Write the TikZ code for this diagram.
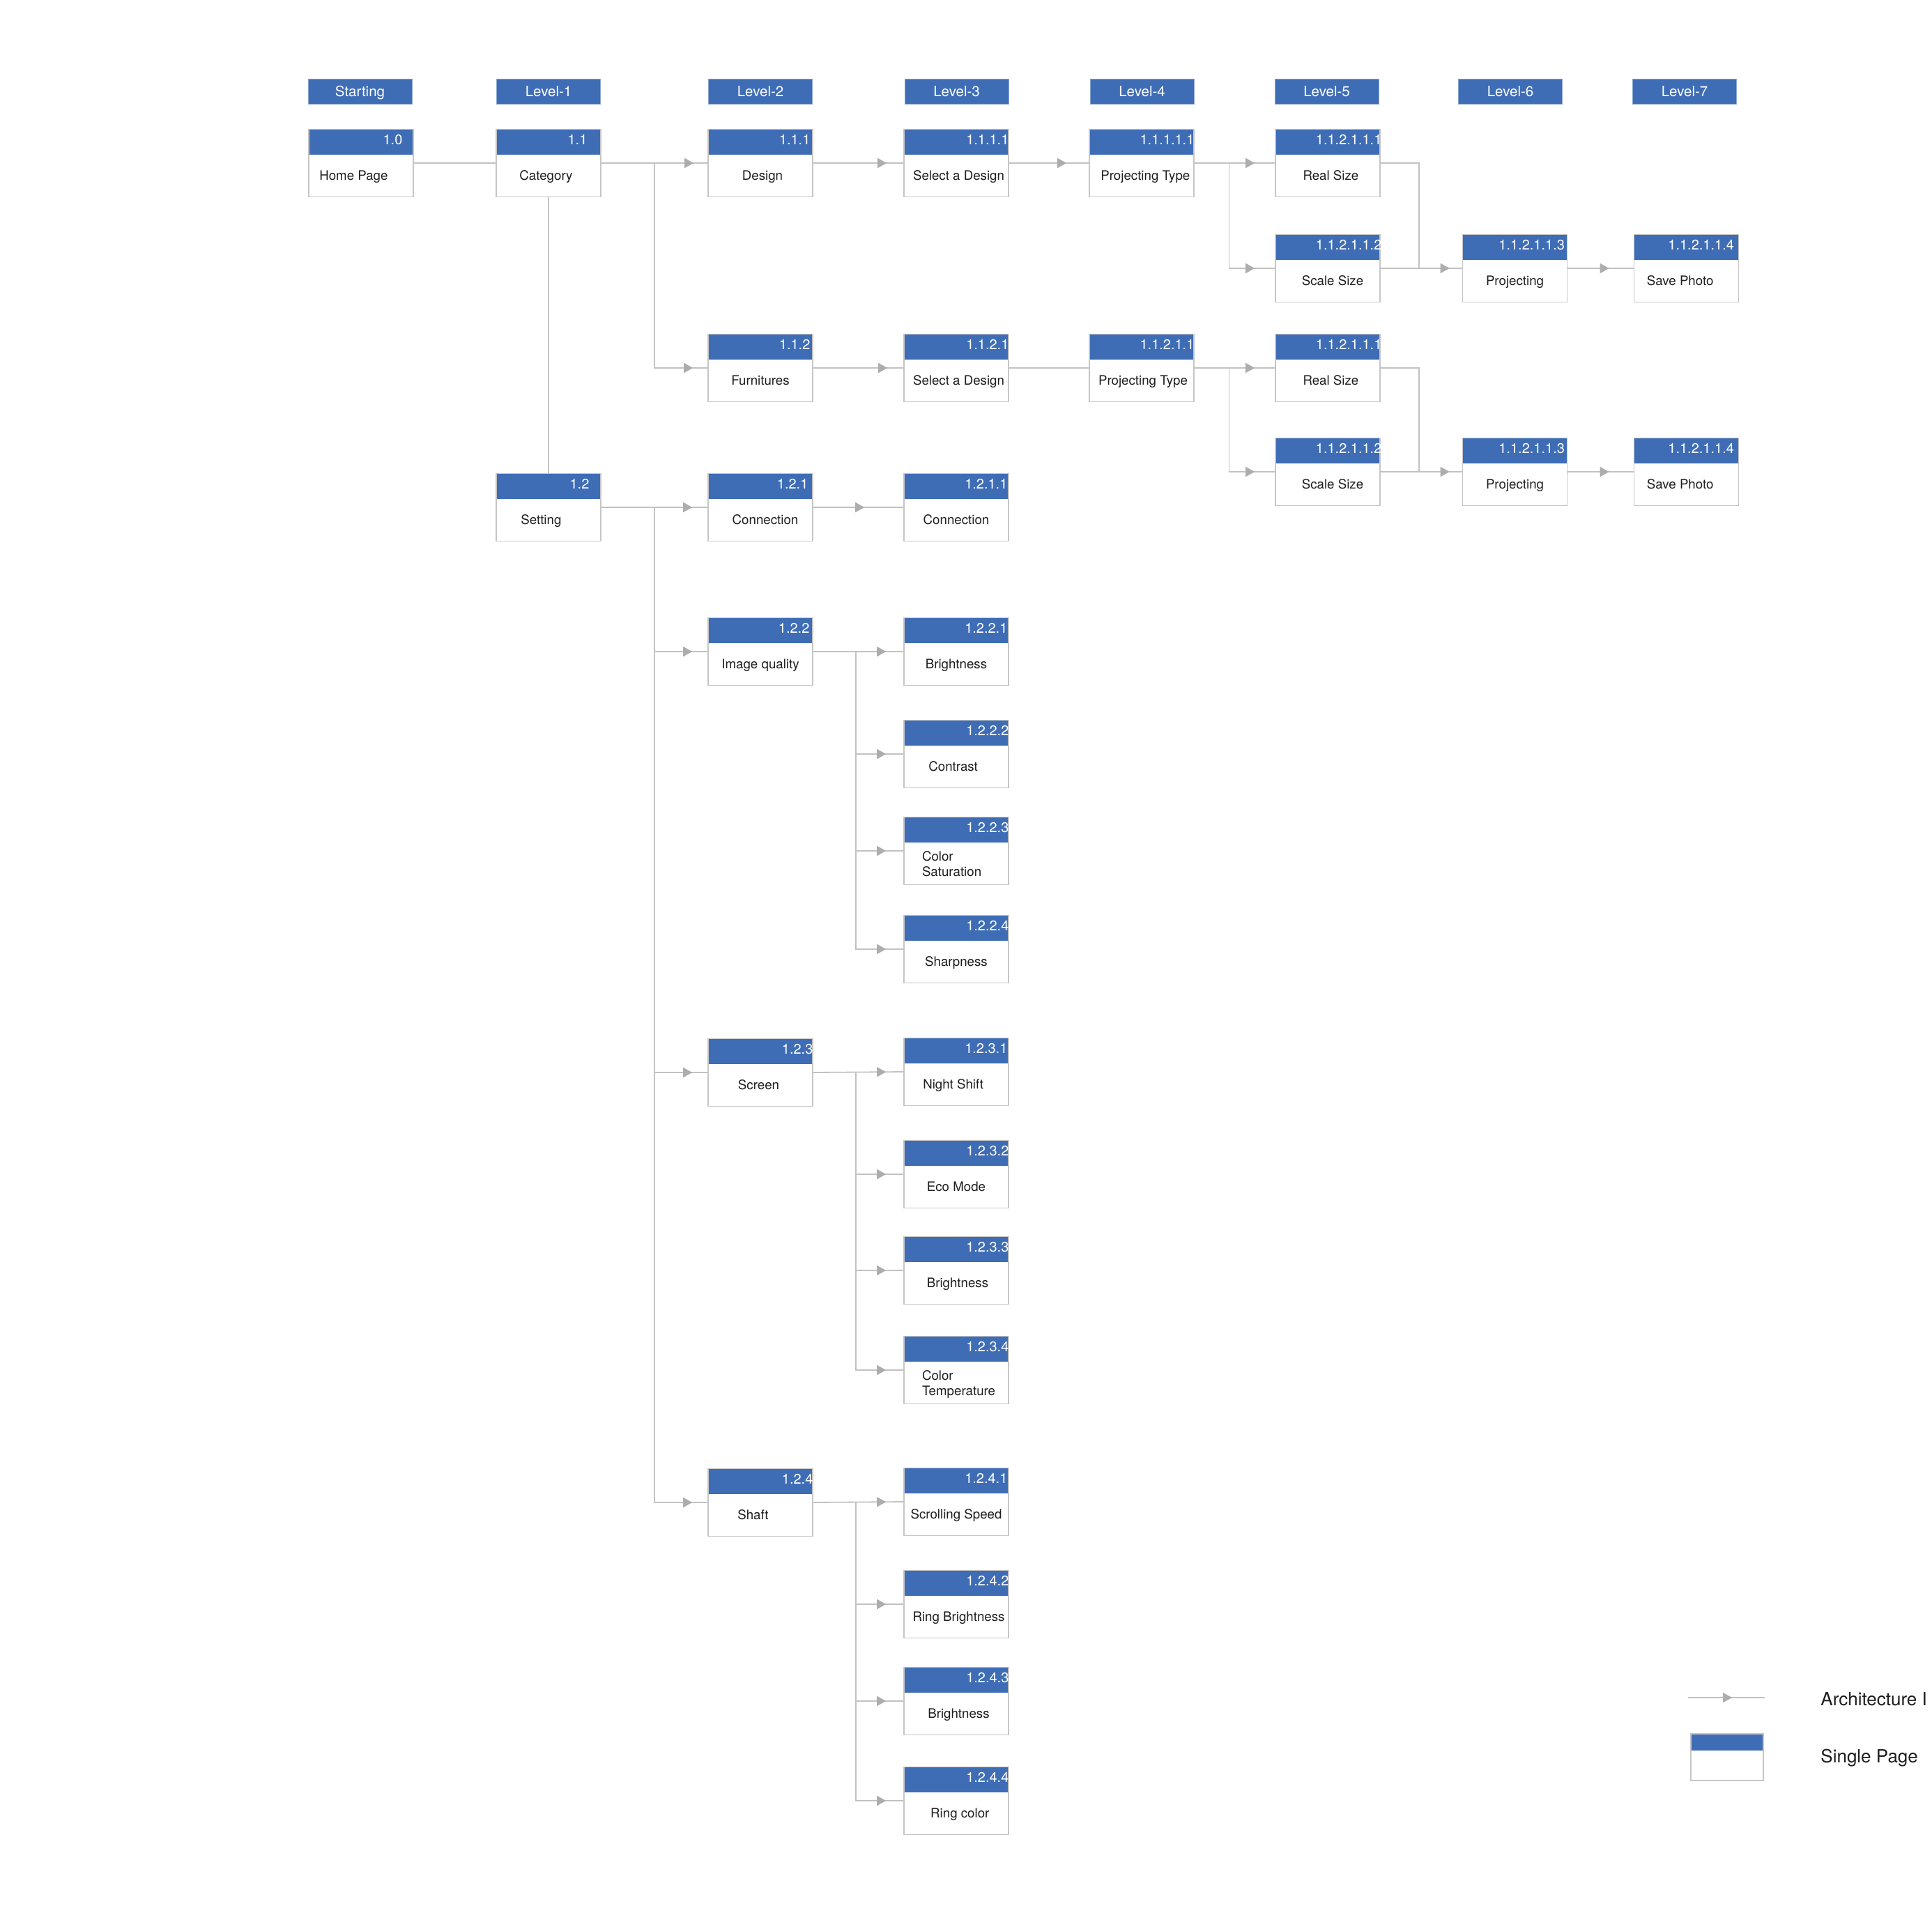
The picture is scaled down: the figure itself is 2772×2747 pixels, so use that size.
\documentclass[tikz,border=0pt]{standalone}
\usepackage{fontspec}
\setmainfont{TeX Gyre Heros}
\usetikzlibrary{arrows.meta,calc,decorations.markings}
\definecolor{HeadBlue}{HTML}{3E6DB6}
\definecolor{EdgeGray}{HTML}{C6C6C6}
\definecolor{WireGray}{HTML}{C2C2C2}
\definecolor{TipGray}{HTML}{ADADAD}
\definecolor{DarkText}{HTML}{1E1E1E}
\tikzset{
  levelhead/.style={fill=HeadBlue, draw=HeadBlue!60!white, line width=0.4pt, text=white, minimum width=74.5pt, minimum height=18pt, inner sep=0pt, font=\fontsize{10.25}{12}\selectfont, text height=7.3pt, text depth=0pt},
  numtag/.style={anchor=base east, inner sep=0pt, text=white, font=\fontsize{10}{12}\selectfont, yshift=-11.5pt},
  pagebox/.style 2 args={draw=EdgeGray, line width=0.8pt, fill=white, minimum width=75pt, minimum height=48.5pt, inner sep=0pt, text=DarkText, font=\fontsize{9.35}{11}\selectfont, text height=24.5pt, text depth=0pt,
    path picture={\fill[HeadBlue] (path picture bounding box.north west) rectangle ([yshift=-18pt]path picture bounding box.north east);},
    label={[numtag, xshift=#2]north east:#1}},
  twoline/.style={align=left, text width=49pt, text height=14.5pt, text depth=0pt},
  toleft/.style={execute at end node=\hspace*{#1}},
  toright/.style={execute at begin node=\hspace*{#1}},
  legendbox/.style={draw=EdgeGray, line width=0.8pt, fill=white, minimum width=52pt, minimum height=33.5pt, inner sep=0pt,
    path picture={\fill[HeadBlue] (path picture bounding box.north west) rectangle ([yshift=-12pt]path picture bounding box.north east);}},
  legtext/.style={anchor=base west, inner sep=0pt, text=DarkText, font=\fontsize{13}{15}\selectfont},
  wire/.style={draw=WireGray, line width=0.9pt},
  link/.style={wire, postaction={decorate, decoration={markings, mark=at position -#1 with {\arrow{Triangle[length=6.5pt, width=7pt, color=TipGray]}}}}},
  link/.default=11pt
}

\begin{document}
\begin{tikzpicture}[x=0.5pt, y=-0.5pt]
\fill[white] (0,0) rectangle (2772,2747);
\useasboundingbox (0,0) rectangle (2772,2747);

% level headers
\node[levelhead] (hstart) at (516.5,131) {Starting};
\node[levelhead] (hlev1) at (787,131) {Level-1};
\node[levelhead] (hlev2) at (1091,131) {Level-2};
\node[levelhead] (hlev3) at (1372.5,131) {Level-3};
\node[levelhead] (hlev4) at (1638.5,131) {Level-4};
\node[levelhead] (hlev5) at (1903.5,131) {Level-5};
\node[levelhead] (hlev6) at (2167,131) {Level-6};
\node[levelhead] (hlev7) at (2417,131) {Level-7};

% category, first row
\node[pagebox={1.0}{-8pt}, toleft=10.6pt] (home) at (518,234) {Home Page};
\node[pagebox={1.1}{-10pt}, toleft=3.5pt] (cat) at (787,234) {Category};
\node[pagebox={1.1.1}{-2pt}, toright=3pt] (design) at (1091,234) {Design};
\node[pagebox={1.1.1.1}{0pt}, toright=3.5pt] (sel1) at (1372,234) {Select a Design};
\node[pagebox={1.1.1.1.1}{0pt}, toright=5.3pt] (ptype1) at (1638,234) {Projecting Type};
\node[pagebox={1.1.2.1.1.1}{1pt}, toright=4.4pt] (real1) at (1905,234) {Real Size};
\node[pagebox={1.1.2.1.1.2}{1pt}, toright=7pt] (scale1) at (1905,385) {Scale Size};
\node[pagebox={1.1.2.1.1.3}{-2pt}] (proj1) at (2173.5,385) {Projecting};
\node[pagebox={1.1.2.1.1.4}{-3.5pt}, toleft=8.8pt] (save1) at (2419.5,385) {Save Photo};

% category, second row
\node[pagebox={1.1.2}{-2pt}] (furn) at (1091,528) {Furnitures};
\node[pagebox={1.1.2.1}{0pt}, toright=3.5pt] (sel2) at (1372,528) {Select a Design};
\node[pagebox={1.1.2.1.1}{0pt}, toright=2pt] (ptype2) at (1638,528) {Projecting Type};
\node[pagebox={1.1.2.1.1.1}{1pt}, toright=4.4pt] (real2) at (1905,528) {Real Size};
\node[pagebox={1.1.2.1.1.2}{1pt}, toright=7pt] (scale2) at (1905,677) {Scale Size};
\node[pagebox={1.1.2.1.1.3}{-2pt}] (proj2) at (2173.5,677) {Projecting};
\node[pagebox={1.1.2.1.1.4}{-3.5pt}, toleft=8.8pt] (save2) at (2419.5,677) {Save Photo};

% setting
\node[pagebox={1.2}{-8.5pt}, toleft=10.6pt] (setting) at (787,728) {Setting};
\node[pagebox={1.2.1}{-3.5pt}, toright=7pt] (conn) at (1091,728) {Connection};
\node[pagebox={1.2.1.1}{-1pt}] (conn2) at (1372,728) {Connection};

\node[pagebox={1.2.2}{-2.5pt}] (iq) at (1091,935) {Image quality};
\node[pagebox={1.2.2.1}{-1pt}] (bright1) at (1372,935) {Brightness};
\node[pagebox={1.2.2.2}{0pt}, toleft=4.4pt] (contrast) at (1372,1082) {Contrast};
\node[pagebox={1.2.2.3}{0pt}, twoline] (colsat) at (1372,1221) {Color\\Saturation};
\node[pagebox={1.2.2.4}{0pt}] (sharp) at (1372,1362) {Sharpness};

\node[pagebox={1.2.3}{0pt}, toleft=2.5pt] (screen) at (1091,1539) {Screen};
\node[pagebox={1.2.3.1}{-1pt}, toleft=4.4pt] (night) at (1372,1538) {Night Shift};
\node[pagebox={1.2.3.2}{0pt}] (eco) at (1372,1685) {Eco Mode};
\node[pagebox={1.2.3.3}{0pt}, toright=2pt] (bright2) at (1372,1823) {Brightness};
\node[pagebox={1.2.3.4}{0pt}, twoline] (coltemp) at (1372,1966) {Color\\Temperature};

\node[pagebox={1.2.4}{0pt}, toleft=10.6pt] (shaft) at (1091,2156) {Shaft};
\node[pagebox={1.2.4.1}{-1pt}] (scroll) at (1372,2155) {Scrolling Speed};
\node[pagebox={1.2.4.2}{0pt}, toright=3.5pt] (ringbright) at (1372,2302) {Ring Brightness};
\node[pagebox={1.2.4.3}{0pt}, toright=3.5pt] (bright3) at (1372,2441) {Brightness};
\node[pagebox={1.2.4.4}{0pt}, toright=5.3pt] (ringcolor) at (1372,2584) {Ring color};

% connectors, category
\draw[wire] (home.east) -- (cat.west);
\coordinate (t1) at ($(cat.east)!.5!(design.west)$);
\draw[link=10pt] (cat.east) -- (design.west);
\draw[link=10.5pt] (t1) |- (furn.west);
\draw[link=12pt] (design.east) -- (sel1.west);
\draw[link=16pt] (sel1.east) -- (ptype1.west);
\coordinate (t2) at ($(ptype1.east)!.43!(real1.west)$);
\draw[link=14.5pt] (ptype1.east) -- (real1.west);
\draw[link=14.5pt] (t2) |- (scale1.west);
\coordinate (t3) at ($(scale1.east)!.47!(proj1.west)$);
\draw[wire] (real1.east) -| (t3);
\draw[link=9pt] (scale1.east) -- (proj1.west);
\draw[link=17.5pt] (proj1.east) -- (save1.west);

\draw[link=11.5pt] (furn.east) -- (sel2.west);
\draw[wire] (sel2.east) -- (ptype2.west);
\coordinate (t4) at ($(ptype2.east)!.43!(real2.west)$);
\draw[link=14.5pt] (ptype2.east) -- (real2.west);
\draw[link=14.5pt] (t4) |- (scale2.west);
\coordinate (t5) at ($(scale2.east)!.47!(proj2.west)$);
\draw[wire] (real2.east) -| (t5);
\draw[link=9pt] (scale2.east) -- (proj2.west);
\draw[link=17.5pt] (proj2.east) -- (save2.west);

% connectors, setting
\draw[wire] (cat.south) -- (setting.north);
\coordinate (t6) at ($(setting.east)!.5!(conn.west)$);
\draw[link=11pt] (setting.east) -- (conn.west);
\draw[link=11pt] (t6) |- (iq.west);
\draw[link=11pt] (t6) |- (screen.west);
\draw[link=11pt] (t6) |- (shaft.west);
\draw[link=28pt] (conn.east) -- (conn2.west);

\coordinate (t7) at ($(iq.east)!.47!(bright1.west)$);
\draw[link=12.5pt] (iq.east) -- (bright1.west);
\draw[link=12.5pt] (t7) |- (contrast.west);
\draw[link=12.5pt] (t7) |- (colsat.west);
\draw[link=12.5pt] (t7) |- (sharp.west);

\coordinate (t8) at ($(screen.east)!.47!(night.west)$);
\draw[link=12.5pt] (screen.east) -- (night.west);
\draw[link=12.5pt] (t8) |- (eco.west);
\draw[link=12.5pt] (t8) |- (bright2.west);
\draw[link=12.5pt] (t8) |- (coltemp.west);

\coordinate (t9) at ($(shaft.east)!.47!(scroll.west)$);
\draw[link=12.5pt] (shaft.east) -- (scroll.west);
\draw[link=12.5pt] (t9) |- (ringbright.west);
\draw[link=12.5pt] (t9) |- (bright3.west);
\draw[link=12.5pt] (t9) |- (ringcolor.west);

% legend
\coordinate (leg1) at (2422,2436);
\coordinate (leg2) at (2532,2436);
\draw[link=23.5pt] (leg1) -- (leg2);
\node[legendbox] (legpage) at (2478,2521.5) {};
\node[legtext] (legarch) at (2612,2447) {Architecture I};
\node[legtext] (legsingle) at (2612,2529) {Single Page};
\end{tikzpicture}
\end{document}
